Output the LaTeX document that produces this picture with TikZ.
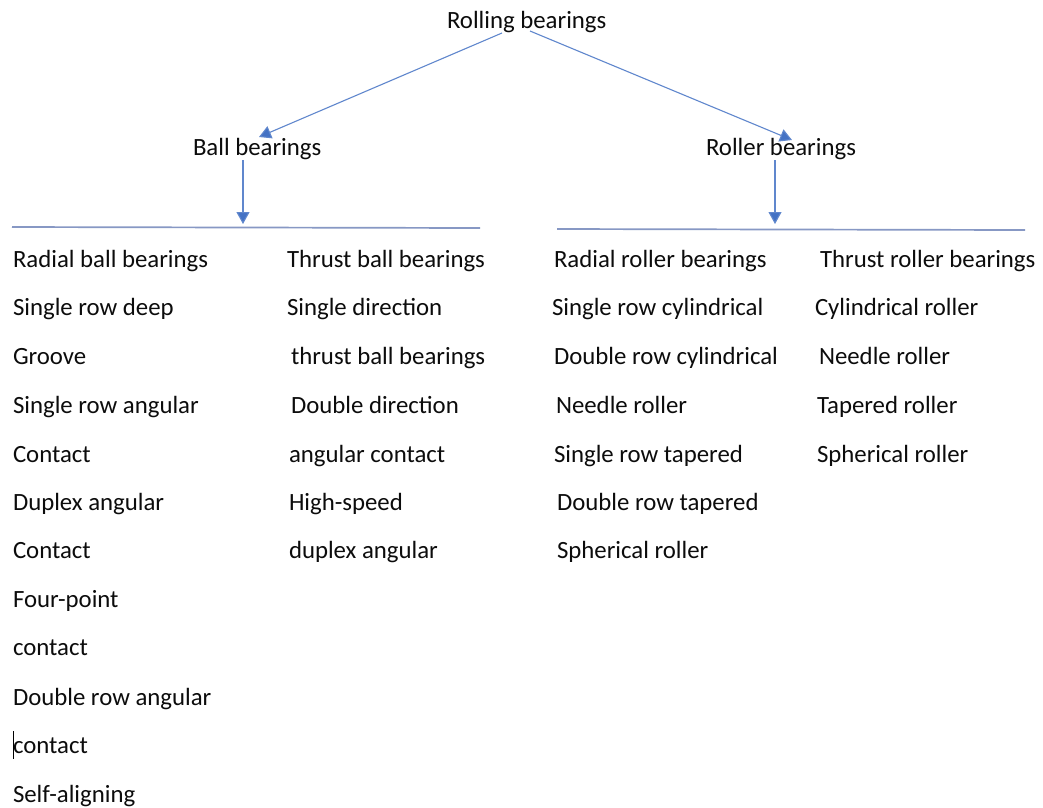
\documentclass[tikz,border=0pt]{standalone}
\usepackage{fontspec}
\setmainfont{Carlito}
\usetikzlibrary{arrows.meta}
\definecolor{arrblue}{RGB}{68,114,196}
\definecolor{lineblue}{RGB}{135,152,196}
\definecolor{txt}{RGB}{12,12,12}
\tikzset{
  lbl/.style={anchor=base west, inner sep=0pt, outer sep=0pt, font=\fontsize{24.8}{28}\selectfont, text=txt},
  conn/.style={draw=arrblue!85, line width=1.1pt, -{Triangle[width=13pt,length=12pt,fill=arrblue]}},
  rule/.style={draw=lineblue, line width=1.7pt}
}
\begin{document}
\begin{tikzpicture}[x=1pt,y=-1pt]
\useasboundingbox[fill=white] (0,0) rectangle (1043,807);
% headings
\node[lbl] (rolling) at (447,28) {Rolling bearings};
\node[lbl] (ball) at (193,155) {Ball bearings};
\node[lbl] (roller) at (706,155) {Roller bearings};
% connector end points
\coordinate (rL) at (502,33);
\coordinate (rR) at (530,31);
\coordinate (bT) at (259,137);
\coordinate (oT) at (792,140);
\coordinate (bB) at (243,160);
\coordinate (bE) at (243,224);
\coordinate (oB) at (775,160);
\coordinate (oE) at (775,224);
\draw[conn] (rL) -- (bT);
\draw[conn] (rR) -- (oT);
\draw[conn] (bB) -- (bE);
\draw[conn] (oB) -- (oE);
% rules
\coordinate (l1) at (12,227);
\coordinate (l2) at (480,228);
\coordinate (r1) at (557,229);
\coordinate (r2) at (1025,230);
\draw[rule] (l1) -- (l2);
\draw[rule] (r1) -- (r2);
% column 1
\node[lbl] (a1) at (13,267) {Radial ball bearings};
\node[lbl] (a2) at (13,315) {Single row deep};
\node[lbl] (a3) at (13,364) {Groove};
\node[lbl] (a4) at (13,413) {Single row angular};
\node[lbl] (a5) at (13,462) {Contact};
\node[lbl] (a6) at (13,510) {Duplex angular};
\node[lbl] (a7) at (13,558) {Contact};
\node[lbl] (a8) at (13,607) {Four-point};
\node[lbl] (a9) at (13,655) {contact};
\node[lbl] (a10) at (13,705) {Double row angular};
\node[lbl] (a11) at (13,753) {contact};
\node[lbl] (a12) at (13,802) {Self-aligning};
% text cursor
\coordinate (c1) at (13.5,731);
\coordinate (c2) at (13.5,759);
\draw[black, line width=1pt] (c1) -- (c2);
% column 2
\node[lbl] (b1) at (287,267) {Thrust ball bearings};
\node[lbl] (b2) at (287,315) {Single direction};
\node[lbl] (b3) at (291,364) {thrust ball bearings};
\node[lbl] (b4) at (291,413) {Double direction};
\node[lbl] (b5) at (289,462) {angular contact};
\node[lbl] (b6) at (289,510) {High-speed};
\node[lbl] (b7) at (289,558) {duplex angular};
% column 3
\node[lbl] (c1n) at (554,267) {Radial roller bearings};
\node[lbl] (c2n) at (552,315) {Single row cylindrical};
\node[lbl] (c3n) at (554,364) {Double row cylindrical};
\node[lbl] (c4n) at (556,413) {Needle roller};
\node[lbl] (c5n) at (554,462) {Single row tapered};
\node[lbl] (c6n) at (557,510) {Double row tapered};
\node[lbl] (c7n) at (557,558) {Spherical roller};
% column 4
\node[lbl] (d1) at (820,267) {Thrust roller bearings};
\node[lbl] (d2) at (815,315) {Cylindrical roller};
\node[lbl] (d3) at (819,364) {Needle roller};
\node[lbl] (d4) at (817,413) {Tapered roller};
\node[lbl] (d5) at (817,462) {Spherical roller};
\end{tikzpicture}
\end{document}
